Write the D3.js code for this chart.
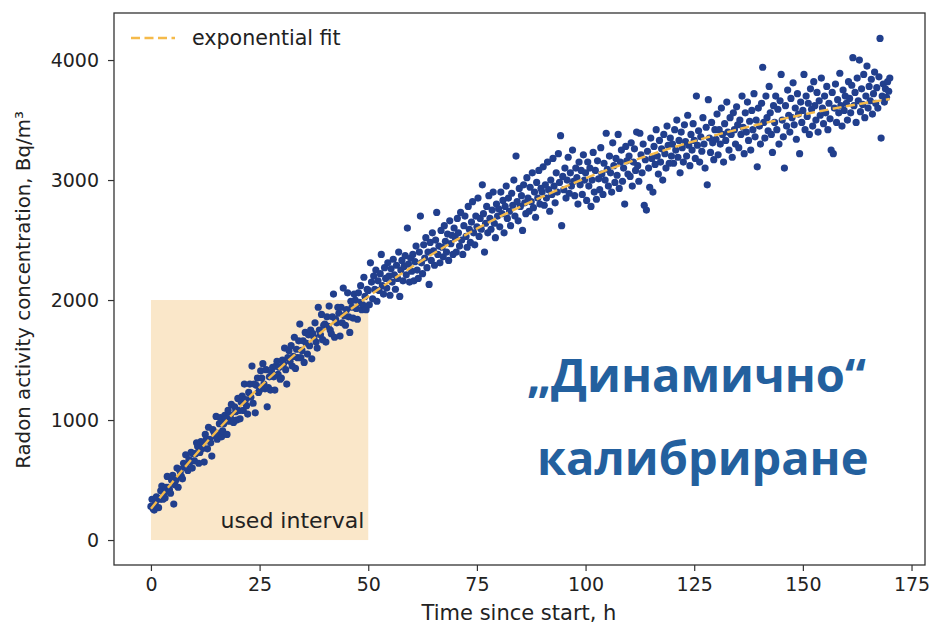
<!DOCTYPE html>
<html>
<head>
<meta charset="utf-8">
<script src="https://cdn.jsdelivr.net/npm/d3@7"></script>
<style>
  body { margin: 0; background: #ffffff; }
  svg { display: block; }
</style>
</head>
<body>
<svg id="chart" width="933" height="624"></svg>
<script>
// Radon readings, one every quarter hour from the start of the measurement (Bq/m³)
const stepHours = 0.25;
const radon = [
  280,340,260,250,310,360,350,270,340,410,450,340,390,350,440,530,440,420,390,500,540,300,460,500,600,440,590,570,530,510,640,610,710,600,580,670,650,730,600,720,
  660,720,810,780,640,730,820,760,810,650,880,840,760,940,840,810,700,920,900,870,1030,840,890,970,1020,860,910,970,1040,1010,880,1080,990,1040,1130,1000,980,1110,1070,1000,
  1180,1080,1010,1150,1200,1080,1300,1170,1120,1050,1230,1300,1190,1450,1140,1300,1060,1290,1350,1230,1250,1410,1350,1470,1300,1260,1420,1110,1270,1360,1250,1400,1440,1360,1250,1450,1490,1380,1440,1340,
  1350,1500,1470,1600,1420,1300,1520,1580,1490,1620,1450,1530,1690,1430,1590,1520,1660,1800,1520,1580,1660,1480,1730,1640,1550,1710,1620,1750,1510,1720,1690,1810,1650,1600,1940,1750,1710,1880,1670,1790,
  1800,1650,1860,1780,1950,1750,1720,1860,2050,1690,1840,1810,1940,1890,1700,1940,1810,2100,1870,1790,1920,2060,1860,1730,1990,1940,1850,2050,2000,1930,1840,2060,1980,2120,1920,1960,2190,2030,1920,2090,
  2080,1960,2310,2150,2010,2200,2090,2250,1990,2160,2080,2220,2380,2120,2050,2270,2180,2100,2310,2200,2040,2260,2150,2340,2210,2090,2290,2180,2400,2030,2250,2330,2160,2280,2370,2210,2600,2300,2150,2350,
  2240,2380,2160,2320,2450,2250,2180,2400,2700,2310,2220,2460,2350,2520,2270,2400,2130,2480,2330,2560,2410,2290,2500,2730,2380,2450,2310,2580,2440,2360,2620,2490,2400,2550,2330,2660,2470,2540,2380,2600,
  2520,2400,2680,2560,2450,2730,2500,2380,2620,2700,2530,2440,2780,2590,2480,2650,2820,2560,2460,2700,2610,2850,2530,2680,2590,2960,2720,2400,2640,2780,2560,2870,2680,2590,2750,2900,2640,2520,2800,2700,
  2760,2610,2900,2720,2830,2560,2780,2950,2680,2850,2740,2620,2890,2790,3000,2700,3200,2820,2660,2930,2780,2870,2580,2960,2810,2720,3020,2850,2740,2940,2820,3060,2770,2900,2690,2980,2850,3080,2800,2930,
  2900,3110,2790,2960,2850,3150,2920,2740,3000,2880,3180,2950,2810,3060,2900,3220,2980,3370,2620,3030,2920,3100,2850,3000,3190,2890,3060,2950,3250,2990,2870,3100,3020,2800,3150,2960,3080,2880,3210,3000,
  3060,2830,3150,2950,3100,2780,3000,3230,2900,3080,2840,3160,3010,2920,3270,3050,2880,3140,3000,3390,3090,2950,3200,3060,2900,3310,3120,2980,3180,3040,3380,2930,3150,3250,2990,3100,2800,3280,3160,3050,
  3200,3030,3310,2950,3150,3260,3080,3400,3120,2990,3390,3210,3060,3300,2790,3170,2750,3240,3100,2940,3350,3180,2900,3280,3130,3420,3200,3050,3330,3150,3260,3000,3380,3220,3100,3450,3290,3140,3350,3200,
  3300,3140,3420,3250,3500,3190,3330,3060,3400,3270,3150,3460,3320,3200,3540,3290,3120,3380,3250,3470,3330,3180,3700,3290,3410,3150,3360,3240,3520,3300,3100,3440,2960,3670,3350,3230,3480,3310,3170,3420,
  3340,3550,3210,3420,3300,3600,3380,3150,3470,3330,3650,3400,3250,3520,3380,3190,3560,3420,3300,3610,3460,3270,3500,3380,3700,3440,3220,3560,3400,3650,3330,3490,3250,3580,3420,3720,3360,3500,3110,3600,
  3450,3300,3640,3940,3480,3350,3700,3520,3410,3780,3560,3380,3230,3620,3480,3700,3420,3590,3300,3660,3880,3500,3360,3100,3620,3450,3750,3540,3400,3680,3520,3810,3460,3600,3340,3720,3550,3220,3650,3480,
  3580,3880,3420,3700,3530,3640,3380,3760,3590,3450,3820,3620,3500,3730,3400,3660,3540,3850,3600,3470,3700,3560,3780,3420,3640,3510,3250,3730,3220,3600,3800,3480,3670,3560,3890,3620,3450,3750,3580,3700,
  3640,3500,3820,3680,3560,3790,4020,3620,3730,3480,3850,3660,4000,3570,3760,3630,3880,3520,3700,3950,3600,3780,3660,3840,3550,3720,3900,3640,3770,3600,3860,4180,3350,3700,3800,3650,3760,3690,3820,3740,
  3850
];

// Exponential fit curve, sampled every 10 h
const fitHours  = [0, 10, 20, 30, 40, 50, 60, 70, 80, 90, 100, 110, 120, 130, 140, 150, 160, 170];
const fitValues = [260, 700, 1094, 1444, 1755, 2030, 2275, 2495, 2690, 2860, 3015, 3150, 3270, 3375, 3465, 3545, 3615, 3675];

// Calibration window
const usedHours = [0, 50];
const usedLevels = [0, 2000];

const xTicks = [0, 25, 50, 75, 100, 125, 150, 175];
const yTicks = [0, 1000, 2000, 3000, 4000];

const legendLabel = "exponential fit";
const intervalLabel = "used interval";
const xTitle = "Time since start, h";
const yTitle = "Radon activity concentration, Bq/m³";
const headline = ["„Динамично“", "калибриране"];

const svg = d3.select("#chart");
const plot = { left: 114, right: 925, top: 13, bottom: 565 };

const x = d3.scaleLinear().domain([-8.5, 178.1]).range([plot.left, plot.right]);
const y = d3.scaleLinear().domain([-208, 4392]).range([plot.bottom, plot.top]);

const points = radon.map((v, i) => ({ t: i * stepHours, v }));
const fit = fitHours.map((t, i) => ({ t, v: fitValues[i] }));

const tickFont = "'DejaVu Sans', sans-serif";

// shaded calibration window
svg.append("rect")
  .attr("x", x(usedHours[0]))
  .attr("y", y(usedLevels[1]))
  .attr("width", x(usedHours[1]) - x(usedHours[0]))
  .attr("height", y(usedLevels[0]) - y(usedLevels[1]))
  .attr("fill", "#fae7c9");

svg.append("text")
  .attr("x", x(usedHours[1]) - 4)
  .attr("y", y(usedLevels[0]) - 12)
  .attr("text-anchor", "end")
  .attr("font-family", tickFont)
  .attr("font-size", 22)
  .attr("fill", "#222")
  .text(intervalLabel);

// measurements
svg.append("g")
  .selectAll("circle")
  .data(points)
  .join("circle")
  .attr("cx", d => x(d.t))
  .attr("cy", d => y(d.v))
  .attr("r", 3.6)
  .attr("fill", "#213f8d");

// fitted curve
svg.append("path")
  .datum(fit)
  .attr("fill", "none")
  .attr("stroke", "#f5ba4a")
  .attr("stroke-width", 2.4)
  .attr("stroke-dasharray", "9,4.5")
  .attr("d", d3.line().x(d => x(d.t)).y(d => y(d.v)).curve(d3.curveMonotoneX));

// axes
const xAxis = svg.append("g")
  .attr("transform", `translate(0,${plot.bottom})`)
  .call(d3.axisBottom(x).tickValues(xTicks).tickSize(6).tickPadding(7).tickFormat(d3.format("d")));
const yAxis = svg.append("g")
  .attr("transform", `translate(${plot.left},0)`)
  .call(d3.axisLeft(y).tickValues(yTicks).tickSize(6).tickPadding(9).tickFormat(d3.format("d")));

[xAxis, yAxis].forEach(g => {
  g.select(".domain").remove();
  g.selectAll(".tick line").attr("stroke", "#333").attr("stroke-width", 1.2);
  g.selectAll(".tick text")
    .attr("font-family", tickFont)
    .attr("font-size", 19)
    .attr("fill", "#222");
});

// frame
svg.append("rect")
  .attr("x", plot.left)
  .attr("y", plot.top)
  .attr("width", plot.right - plot.left)
  .attr("height", plot.bottom - plot.top)
  .attr("fill", "none")
  .attr("stroke", "#333")
  .attr("stroke-width", 1.3);

// axis titles
svg.append("text")
  .attr("x", 519)
  .attr("y", 620)
  .attr("text-anchor", "middle")
  .attr("font-family", tickFont)
  .attr("font-size", 21)
  .attr("fill", "#222")
  .text(xTitle);

svg.append("text")
  .attr("transform", "translate(30,290) rotate(-90)")
  .attr("text-anchor", "middle")
  .attr("font-family", tickFont)
  .attr("font-size", 19.8)
  .attr("fill", "#222")
  .text(yTitle);

// legend
const legend = svg.append("g").attr("transform", "translate(131,38)");
legend.append("line")
  .attr("x1", 0).attr("x2", 44).attr("y1", 0).attr("y2", 0)
  .attr("stroke", "#f5ba4a")
  .attr("stroke-width", 2.4)
  .attr("stroke-dasharray", "9,4.5");
legend.append("text")
  .attr("x", 61)
  .attr("y", 7)
  .attr("font-family", tickFont)
  .attr("font-size", 20.6)
  .attr("fill", "#222")
  .text(legendLabel);

// headline
const head = svg.append("g")
  .attr("font-family", "'Open Sans', 'Noto Sans', sans-serif")
  .attr("font-weight", 700)
  .attr("font-size", 47)
  .attr("fill", "#23609e");
head.append("text").attr("x", 527).attr("y", 392).text(headline[0]);
head.append("text").attr("x", 537).attr("y", 475).text(headline[1]);
</script>
</body>
</html>
